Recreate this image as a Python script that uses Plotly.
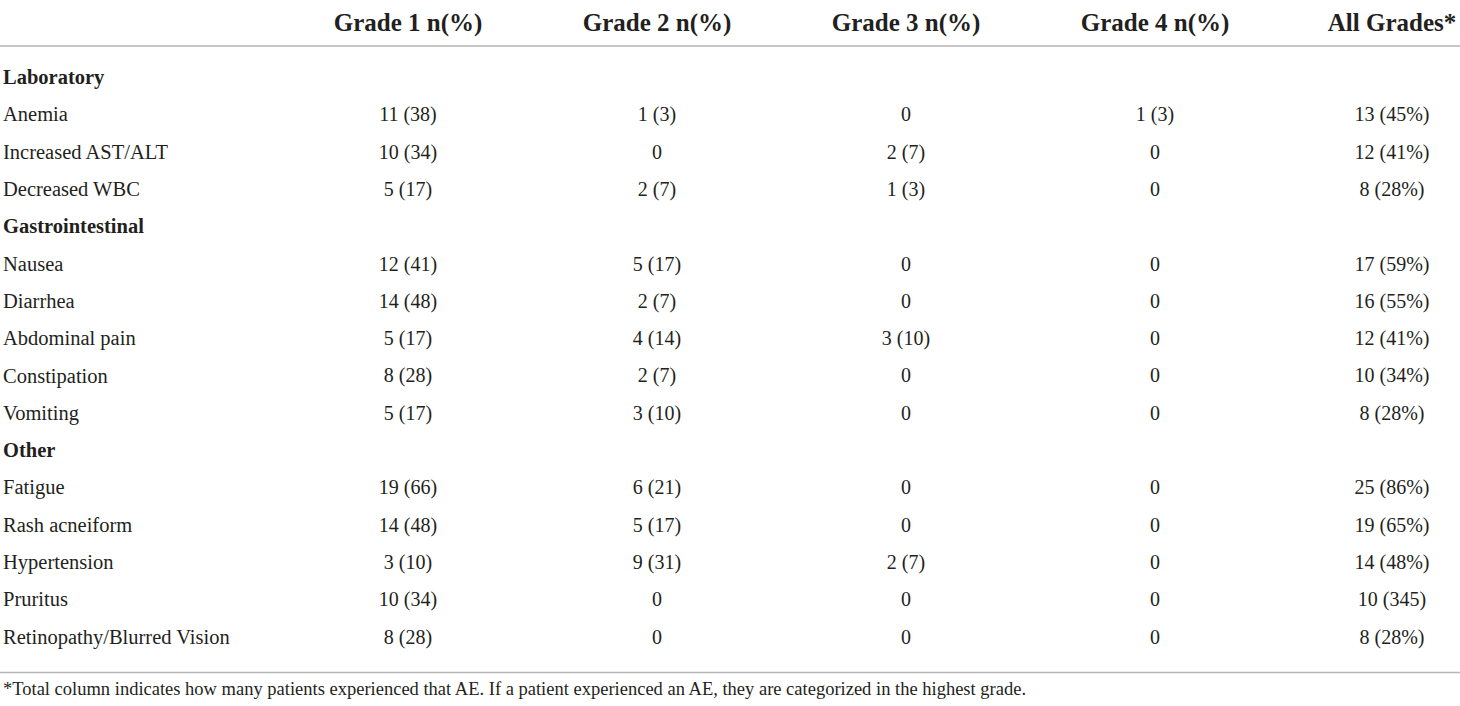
import plotly.graph_objects as go

# table content
headers = ["Grade 1 n(%)", "Grade 2 n(%)", "Grade 3 n(%)", "Grade 4 n(%)", "All Grades*"]

row_labels = [
    "Laboratory", "Anemia", "Increased AST/ALT", "Decreased WBC",
    "Gastrointestinal", "Nausea", "Diarrhea", "Abdominal pain", "Constipation", "Vomiting",
    "Other", "Fatigue", "Rash acneiform", "Hypertension", "Pruritus", "Retinopathy/Blurred Vision",
]
section_rows = ["Laboratory", "Gastrointestinal", "Other"]

grade1 = ["", "11 (38)", "10 (34)", "5 (17)", "", "12 (41)", "14 (48)", "5 (17)", "8 (28)", "5 (17)",
          "", "19 (66)", "14 (48)", "3 (10)", "10 (34)", "8 (28)"]
grade2 = ["", "1 (3)", "0", "2 (7)", "", "5 (17)", "2 (7)", "4 (14)", "2 (7)", "3 (10)",
          "", "6 (21)", "5 (17)", "9 (31)", "0", "0"]
grade3 = ["", "0", "2 (7)", "1 (3)", "", "0", "0", "3 (10)", "0", "0",
          "", "0", "0", "2 (7)", "0", "0"]
grade4 = ["", "1 (3)", "0", "0", "", "0", "0", "0", "0", "0",
          "", "0", "0", "0", "0", "0"]
all_grades = ["", "13 (45%)", "12 (41%)", "8 (28%)", "", "17 (59%)", "16 (55%)", "12 (41%)", "10 (34%)", "8 (28%)",
              "", "25 (86%)", "19 (65%)", "14 (48%)", "10 (345)", "8 (28%)"]

footnote = ("*Total column indicates how many patients experienced that AE. "
            "If a patient experienced an AE, they are categorized in the highest grade.")

# layout constants (pixels across, row units down)
W, H = 1460, 706
col_x = [408, 657, 906, 1155, 1392]
label_x = 3
row_px = 37.3
top_px = 79
header_y = -1.448
rule_top = -0.885
rule_bottom = 15.91
foot_y = 16.38

FONT = "Liberation Serif"
TXT = "#231f20"
RULE = "#b5b5b5"

fig = go.Figure()

rows = list(range(len(row_labels)))

# row labels
fig.add_trace(go.Scatter(
    x=[label_x] * len(rows), y=rows,
    text=[f"<b>{r}</b>" if r in section_rows else r for r in row_labels],
    mode="text", textposition="middle right",
    textfont=dict(family=FONT, size=20.5, color=TXT),
    hoverinfo="skip", showlegend=False,
))

# data columns
for cx, col in zip(col_x, [grade1, grade2, grade3, grade4, all_grades]):
    fig.add_trace(go.Scatter(
        x=[cx] * len(rows), y=rows, text=col,
        mode="text", textposition="middle center",
        textfont=dict(family=FONT, size=20, color=TXT),
        hoverinfo="skip", showlegend=False,
    ))

# header
fig.add_trace(go.Scatter(
    x=col_x, y=[header_y] * len(headers),
    text=[f"<b>{h}</b>" for h in headers],
    mode="text", textposition="middle center",
    textfont=dict(family=FONT, size=25, color=TXT),
    hoverinfo="skip", showlegend=False,
))

# footnote
fig.add_trace(go.Scatter(
    x=[label_x], y=[foot_y], text=[footnote],
    mode="text", textposition="middle right",
    textfont=dict(family=FONT, size=18.5, color=TXT),
    hoverinfo="skip", showlegend=False,
))

for yy in [rule_top, rule_bottom]:
    fig.add_shape(type="line", xref="x", yref="y", x0=0, x1=W, y0=yy, y1=yy,
                  line=dict(color=RULE, width=1.5))

y0 = -top_px / row_px
y1 = y0 + H / row_px

fig.update_layout(
    width=W, height=H,
    margin=dict(l=0, r=0, t=0, b=0),
    paper_bgcolor="white", plot_bgcolor="white",
    xaxis=dict(range=[0, W], visible=False, fixedrange=True),
    yaxis=dict(range=[y1, y0], visible=False, fixedrange=True),
)

fig.write_html("out.html", config={"displayModeBar": False},
               post_script="document.body.style.margin='0';")
